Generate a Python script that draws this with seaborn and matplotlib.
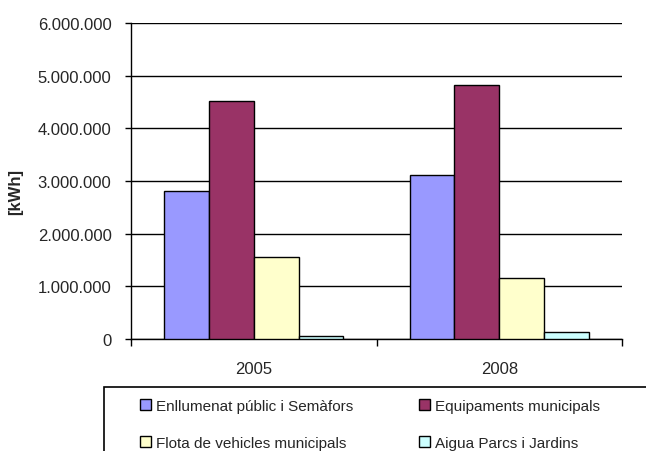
import matplotlib
matplotlib.use("Agg")
import matplotlib.pyplot as plt
from matplotlib.patches import Rectangle
from matplotlib.ticker import FuncFormatter, FixedLocator
import pandas as pd
import seaborn as sns

years = ["2005", "2008"]
series = [
    "Enllumenat públic i Semàfors",
    "Equipaments municipals",
    "Flota de vehicles municipals",
    "Aigua Parcs i Jardins",
]
enllumenat = [2810000, 3110000]
equipaments = [4510000, 4830000]
flota = [1560000, 1160000]
aigua = [50000, 140000]
colors = ["#9999FF", "#993366", "#FFFFCC", "#CCFFFF"]
y_ticks = [0, 1000000, 2000000, 3000000, 4000000, 5000000, 6000000]

rows = []
for name, vals in zip(series, [enllumenat, equipaments, flota, aigua]):
    for yr, v in zip(years, vals):
        rows.append({"Any": yr, "Sector": name, "kWh": v})
df = pd.DataFrame(rows)

sns.set_style("white")
plt.rcParams["font.family"] = ["Liberation Sans", "DejaVu Sans"]

fig = plt.figure(figsize=(6.46, 4.52), dpi=100)
ax = fig.add_axes([131 / 646, 1 - 340 / 452, (622 - 131) / 646, (340 - 24) / 452])

sns.barplot(
    data=df, x="Any", y="kWh", hue="Sector", order=years, hue_order=series,
    palette=colors, width=0.73, edgecolor="black", linewidth=1.0,
    saturation=1, gap=0, legend=False, ax=ax, zorder=3,
)

ax.set_xlim(-0.5, 1.5)
ax.set_ylim(0, 6000000)
ax.yaxis.set_major_locator(FixedLocator(y_ticks))
ax.yaxis.set_major_formatter(
    FuncFormatter(lambda v, p: f"{int(v):,}".replace(",", "."))
)
ax.grid(axis="y", color="black", linewidth=1.0, zorder=0)
ax.set_axisbelow(True)
for s in ["top", "right"]:
    ax.spines[s].set_visible(False)
for s in ["left", "bottom"]:
    ax.spines[s].set_color("black")
    ax.spines[s].set_linewidth(1.0)

ax.set_xlabel("")
ax.set_ylabel("")
ax.tick_params(axis="y", which="major", length=4, width=1, color="black",
               labelsize=12, pad=10, left=True)
ax.tick_params(axis="x", which="major", length=0, labelsize=12, pad=16)
ax.xaxis.set_minor_locator(FixedLocator([-0.5, 0.5, 1.5]))
ax.tick_params(axis="x", which="minor", length=5, width=1, color="black",
               bottom=True, direction="out")

fig.text(16 / 646, 1 - 192 / 452, "[kWh]", rotation=90, fontsize=12,
         fontweight="bold", ha="center", va="center")

# legend frame running off the lower right edge
fig.patches.append(Rectangle((104 / 646, -0.2), 1.0, 0.2 + (452 - 388) / 452,
                             transform=fig.transFigure, facecolor="white",
                             edgecolor="black", linewidth=1.2, zorder=1))
handles = [Rectangle((0, 0), 1, 1, facecolor=c, edgecolor="black", linewidth=1.0)
           for c in colors]
# fill the two legend columns row by row
order = [0, 2, 1, 3]
leg = fig.legend(
    [handles[i] for i in order], [series[i] for i in order],
    ncol=2, frameon=False, fontsize=11,
    loc="upper left", bbox_to_anchor=(140 / 646, 1 - 400 / 452),
    borderaxespad=0, borderpad=0, handlelength=0.7, handleheight=0.7,
    handletextpad=0.35, columnspacing=4.3, labelspacing=1.5,
)
leg.set_zorder(2)

fig.savefig("out.png", dpi=100)
